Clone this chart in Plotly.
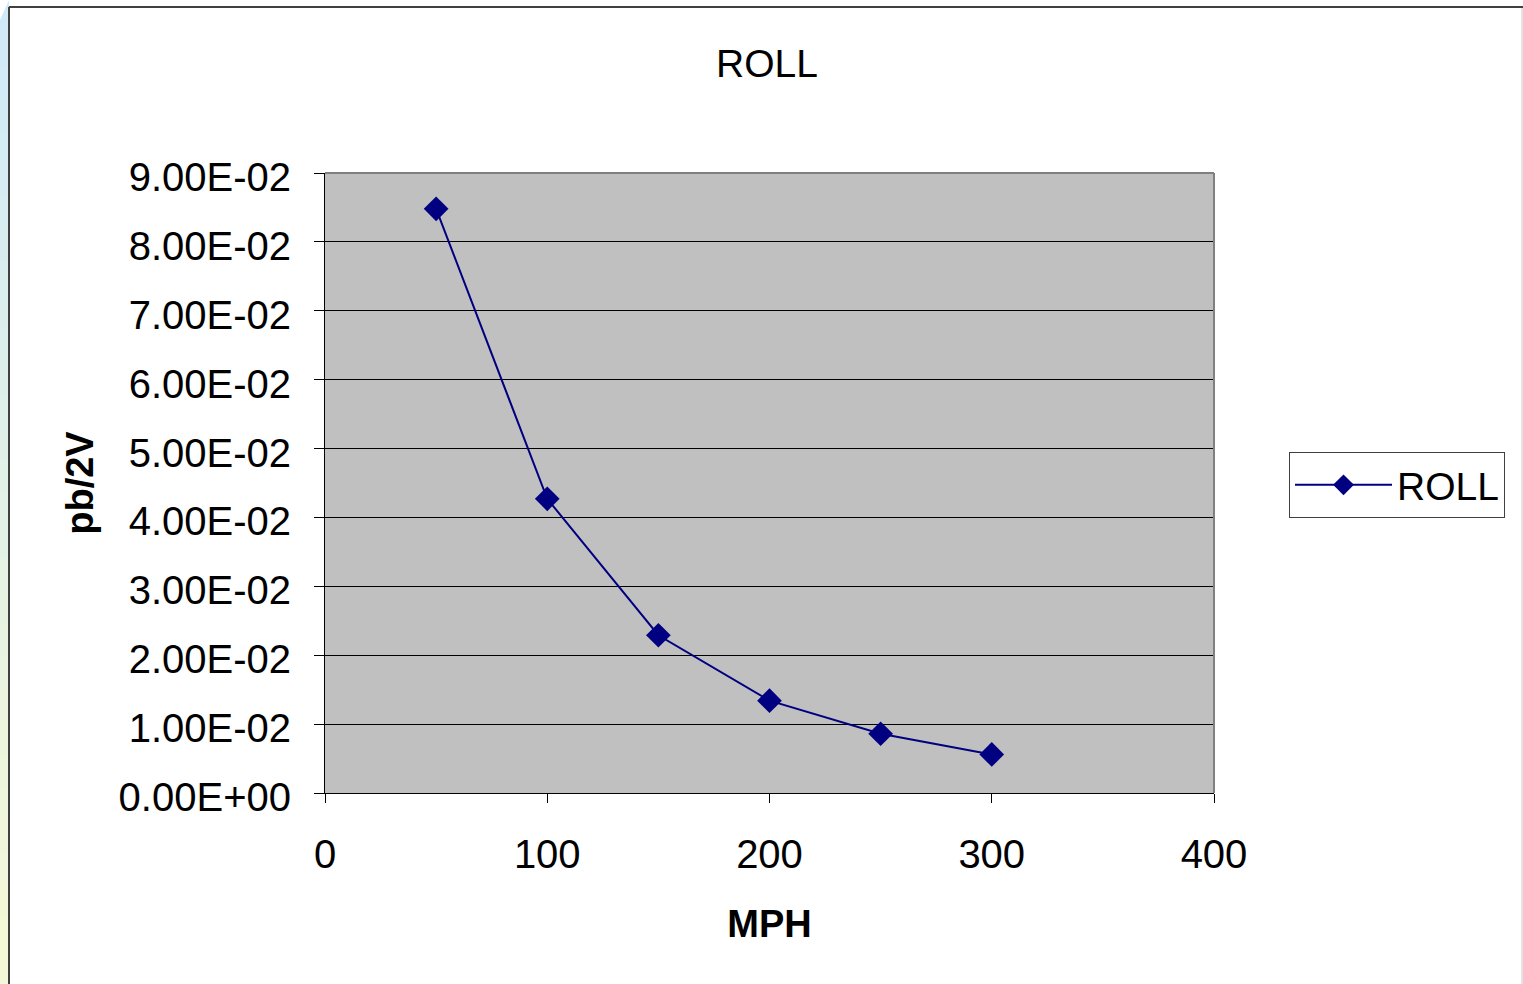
import plotly.graph_objects as go

# Data
mph = [50, 100, 150, 200, 250, 300]
roll = [0.0848, 0.0427, 0.0229, 0.0134, 0.0086, 0.0056]
y_tick_vals = [0, 0.01, 0.02, 0.03, 0.04, 0.05, 0.06, 0.07, 0.08, 0.09]
y_tick_text = ["0.00E+00", "1.00E-02", "2.00E-02", "3.00E-02", "4.00E-02",
               "5.00E-02", "6.00E-02", "7.00E-02", "8.00E-02", "9.00E-02"]
x_tick_vals = [0, 100, 200, 300, 400]

W, H = 1523, 984
L, R, T, B = 325, 1214, 173, 793  # plot area in pixels

def px(x):
    return (x - L) / (R - L)

def py(y):
    return (B - y) / (B - T)

FONT = "Liberation Sans, Arial, sans-serif"

fig = go.Figure()
fig.add_trace(go.Scatter(
    x=mph, y=roll, mode="lines+markers", name="ROLL",
    line=dict(color="#000080", width=2),
    marker=dict(symbol="diamond", size=19, color="#000080"),
))

shapes = []
# left gradient strip (light blue -> light yellow)
n = 30
c0 = (208, 234, 248)
c1 = (244, 248, 214)
for i in range(n):
    t = i / (n - 1)
    c = tuple(int(round(c0[k] + (c1[k] - c0[k]) * t)) for k in range(3))
    y0 = i * H / n
    y1 = (i + 1) * H / n + 1
    shapes.append(dict(type="rect", xref="paper", yref="paper",
                       x0=px(0), x1=px(9), y0=py(y1), y1=py(y0),
                       fillcolor="rgb(%d,%d,%d)" % c, line=dict(width=0), layer="below"))
# white cut at top-left
shapes.append(dict(type="path", xref="paper", yref="paper",
                   path="M %f,%f L %f,%f L %f,%f Z" % (px(0), py(0), px(9), py(0), px(0), py(20)),
                   fillcolor="white", line=dict(width=0), layer="below"))
# frame lines
shapes.append(dict(type="line", xref="paper", yref="paper",
                   x0=px(9), x1=px(1523), y0=py(7), y1=py(7),
                   line=dict(color="#404040", width=2)))
shapes.append(dict(type="line", xref="paper", yref="paper",
                   x0=px(9), x1=px(9), y0=py(7), y1=py(984),
                   line=dict(color="#404040", width=2)))
shapes.append(dict(type="line", xref="paper", yref="paper",
                   x0=px(1522), x1=px(1522), y0=py(8), y1=py(984),
                   line=dict(color="#C8C8C8", width=1)))
# plot area border top/right
shapes.append(dict(type="line", xref="paper", yref="paper",
                   x0=0, x1=1, y0=1, y1=1, line=dict(color="#808080", width=2)))
shapes.append(dict(type="line", xref="paper", yref="paper",
                   x0=1, x1=1, y0=0, y1=1, line=dict(color="#808080", width=2)))

fig.update_layout(
    width=W, height=H,
    margin=dict(l=L, r=W - R, t=T, b=H - B, pad=0),
    paper_bgcolor="white",
    plot_bgcolor="#C0C0C0",
    font=dict(family=FONT, color="black"),
    title=dict(text="ROLL", font=dict(size=39, family=FONT, color="black"),
               x=767 / W, xanchor="center", xref="container",
               y=1 - 63 / H, yanchor="middle", yref="container"),
    xaxis=dict(range=[0, 400], tickvals=x_tick_vals, ticks="outside", ticklen=9,
               tickcolor="black", tickwidth=1, showgrid=False, zeroline=False,
               showline=True, linecolor="black", linewidth=1,
               tickfont=dict(size=40, family=FONT), ticklabelstandoff=17,
               title=dict(text="<b>MPH</b>", font=dict(size=38, family=FONT), standoff=35)),
    yaxis=dict(range=[0, 0.09], tickvals=y_tick_vals, ticktext=y_tick_text,
               ticks="outside", ticklen=10, tickcolor="black", tickwidth=1,
               showgrid=True, gridcolor="black", gridwidth=1, zeroline=False,
               showline=True, linecolor="black", linewidth=1,
               tickfont=dict(size=40, family=FONT), ticklabelstandoff=15,
               ticklabelshift=4,
               title=dict(text="<b>pb/2V</b>", font=dict(size=38, family=FONT), standoff=13)),
    showlegend=True,
    legend=dict(x=px(1289), y=py(452), xanchor="left", yanchor="top",
                bgcolor="white", bordercolor="#404040", borderwidth=1,
                font=dict(size=39, family=FONT), itemwidth=97,
                entrywidth=122, entrywidthmode="pixels"),
    shapes=shapes,
)

fig.write_html("out.html", config={"displayModeBar": False},
               post_script="document.body.style.margin='0';document.body.style.overflow='hidden';")
